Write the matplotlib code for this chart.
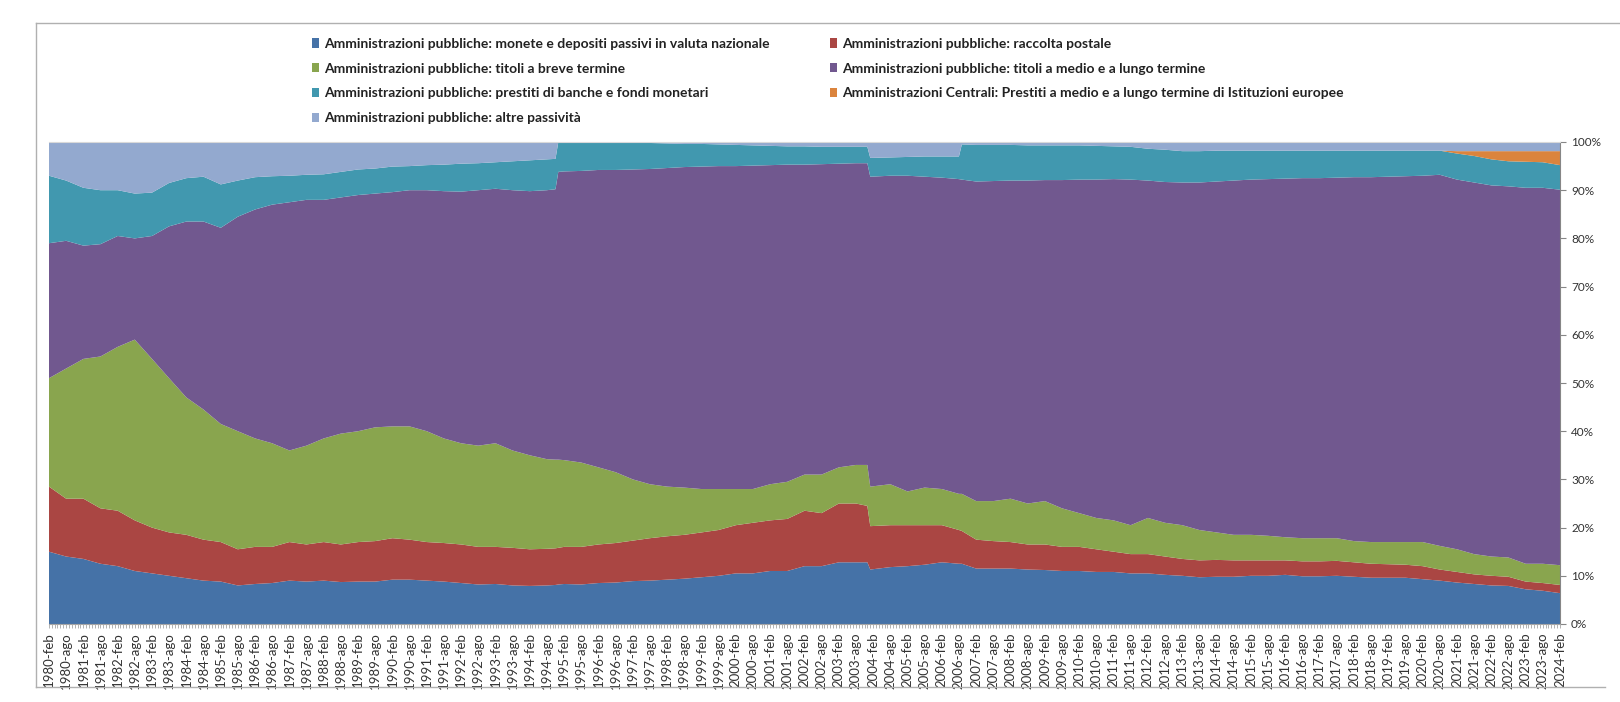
import numpy as np
import pandas as pd
import matplotlib
matplotlib.use('Agg')
import matplotlib.pyplot as plt
import matplotlib.dates as mdates
from matplotlib.patches import Patch
from matplotlib.lines import Line2D
from matplotlib.ticker import FuncFormatter, FixedLocator

plt.rcParams['font.family'] = ['Lato', 'DejaVu Sans']

# === Data (shares in %) ===
dates = [
    '1980-02', '1980-08', '1981-02', '1981-08', '1982-02', '1982-08', '1983-02', '1983-08', '1984-02', '1984-08',
    '1985-02', '1985-08', '1986-02', '1986-08', '1987-02', '1987-08', '1988-02', '1988-08', '1989-02', '1989-08',
    '1990-02', '1990-08', '1991-02', '1991-08', '1992-02', '1992-08', '1993-02', '1993-08', '1994-02', '1994-08',
    '1994-11', '1994-12',
    '1995-02', '1995-08', '1996-02', '1996-08', '1997-02', '1997-08', '1998-02', '1998-08', '1999-02', '1999-08',
    '2000-02', '2000-08', '2001-02', '2001-08', '2002-02', '2002-08', '2003-02', '2003-08',
    '2003-12', '2004-01',
    '2004-08', '2005-02', '2005-08', '2006-02', '2006-08', '2006-09',
    '2007-02', '2007-08', '2008-02', '2008-08', '2009-02', '2009-08', '2010-02', '2010-08', '2011-02', '2011-08',
    '2012-02', '2012-08', '2013-02', '2013-08', '2014-02', '2014-08', '2015-02', '2015-08', '2016-02', '2016-08',
    '2017-02', '2017-08', '2018-02', '2018-08', '2019-02', '2019-08', '2020-02', '2020-08', '2021-02', '2021-08',
    '2022-02', '2022-08', '2023-02', '2023-08',
    '2024-02',
]

monete = [
    15, 14, 13.5, 12.5, 12, 11, 10.5, 10, 9.5, 9, 8.8, 8, 8.3, 8.5, 9, 8.8, 9, 8.7, 8.8, 8.8,
    9.2, 9.2, 9, 8.8, 8.5, 8.2, 8.3, 8, 7.9, 8, 8.1, 8.2,
    8.3, 8.2, 8.5, 8.6, 8.9, 9, 9.2, 9.4, 9.7, 10, 10.5, 10.5, 11, 11, 12, 12, 12.8, 12.8,
    12.8, 11.3,
    11.8, 12, 12.3, 12.8, 12.5, 12.5,
    11.5, 11.5, 11.5, 11.3, 11.2, 11, 11, 10.8, 10.8, 10.5, 10.5, 10.2, 10, 9.7, 9.8, 9.8, 10, 10, 10.2, 9.9,
    9.9, 10, 9.8, 9.6, 9.6, 9.6, 9.3, 9, 8.6, 8.3, 8, 7.9, 7.2, 6.9,
    6.4,
]
raccolta_postale = [
    13.5, 12, 12.5, 11.5, 11.5, 10.5, 9.5, 9, 9, 8.5, 8.2, 7.5, 7.7, 7.5, 8, 7.7, 8, 7.8, 8.2, 8.4,
    8.6, 8.3, 8, 8, 8, 7.8, 7.7, 7.8, 7.6, 7.6, 7.6, 7.6,
    7.7, 7.8, 8, 8.2, 8.4, 8.8, 9, 9.1, 9.3, 9.5, 10, 10.5, 10.5, 10.8, 11.5, 11, 12.2, 12.2,
    11.7, 9,
    8.7, 8.5, 8.2, 7.7, 7, 6.8,
    6, 5.7, 5.5, 5.2, 5.3, 5, 5, 4.7, 4.2, 4, 4, 3.8, 3.5, 3.5, 3.5, 3.4, 3.2, 3.2, 3, 3.1,
    3.1, 3.1, 3, 2.9, 2.8, 2.7, 2.7, 2.3, 2.2, 2, 2, 1.9, 1.6, 1.6,
    1.7,
]
titoli_breve = [
    22.5, 27, 29, 31.5, 34, 37.5, 35, 32, 28.5, 27, 24.5, 24.5, 22.5, 21.5, 19, 20.5, 21.5, 23, 23, 23.6,
    23.2, 23.5, 23, 21.7, 21, 21, 21.5, 20.2, 19.5, 18.6, 18.4, 18.3,
    18, 17.5, 16, 14.7, 12.7, 11.2, 10.3, 9.8, 9, 8.5, 7.5, 7, 7.5, 7.7, 7.5, 8, 7.5, 8,
    8.5, 8.2,
    8.5, 7, 7.8, 7.5, 7.5, 7.7,
    8, 8.3, 9, 8.5, 9, 8, 7, 6.5, 6.5, 6, 7.5, 7, 7, 6.3, 5.7, 5.3, 5.3, 5.1, 4.8, 4.8,
    4.8, 4.7, 4.4, 4.5, 4.6, 4.7, 5, 4.9, 4.7, 4.2, 4, 4, 3.7, 4,
    4.1,
]
titoli_medio_lungo = [
    28, 26.5, 23.5, 23.3, 23, 21, 25.5, 31.5, 36.5, 39, 40.7, 44.5, 47.5, 49.5, 51.5, 51, 49.5, 49, 49, 48.5,
    48.6, 49, 50, 51.3, 52.2, 53, 52.8, 54, 54.8, 55.8, 56.1, 59.7,
    59.9, 60.5, 61.7, 62.7, 64.3, 65.4, 66.1, 66.5, 66.9, 67, 67, 67.1, 66.2, 65.8, 64.3, 64.4, 63, 62.6,
    62.6, 64.3,
    64, 65.5, 64.5, 64.6, 65.3, 65.2,
    66.3, 66.4, 66, 67, 66.6, 68.1, 69.2, 70.2, 70.8, 71.7, 70, 70.7, 71.1, 72.1, 72.8, 73.5, 73.7, 74, 74.4, 74.7,
    74.7, 74.8, 75.5, 75.7, 75.8, 75.9, 76, 77, 76.7, 77.1, 77, 77, 78, 78,
    77.9,
]
prestiti = [
    14, 12.5, 12, 11.2, 9.5, 9.3, 9, 9, 9, 9.3, 9, 7.5, 6.7, 5.9, 5.5, 5.2, 5.3, 5.3, 5.3, 5.2,
    5.3, 5, 5.2, 5.5, 5.8, 5.6, 5.5, 6, 6.4, 6.4, 6.3, 6.2,
    6.1, 6, 5.8, 5.7, 5.5, 5.4, 5.1, 4.8, 4.7, 4.5, 4.4, 4.2, 4, 3.8, 3.8, 3.6, 3.5, 3.4,
    3.4, 3.9,
    3.8, 3.9, 4.2, 4.4, 4.7, 7.3,
    7.6, 7.5, 7.4, 7.3, 7.2, 7.2, 7.1, 7, 6.8, 6.8, 6.6, 6.7, 6.5, 6.5, 6.4, 6.2, 6, 5.9, 5.8, 5.7,
    5.7, 5.6, 5.5, 5.5, 5.4, 5.3, 5.2, 5, 5.4, 5.5, 5.4, 5.2, 5.4, 5.3,
    5.1,
]
istituzioni_europee = [0.0] * 86 + [0.5, 1, 1.7, 2.1, 2.2, 2.3, 2.9]
altre = [
    7, 8, 9.5, 10, 10, 10.7, 10.5, 8.5, 7.5, 7.2, 8.8, 8, 7.3, 7.1, 7, 6.8, 6.7, 6.2, 5.7, 5.5,
    5.1, 5, 4.8, 4.7, 4.5, 4.4, 4.2, 4, 3.8, 3.6, 3.5, 0,
    0, 0, 0, 0.1, 0.2, 0.2, 0.3, 0.4, 0.4, 0.5, 0.6, 0.7, 0.8, 0.9, 0.9, 1, 1, 1,
    1, 3.3,
    3.2, 3.1, 3, 3, 3, 0.5,
    0.6, 0.6, 0.6, 0.7, 0.7, 0.7, 0.7, 0.8, 0.9, 1, 1.4, 1.6, 1.9, 1.9, 1.8, 1.8, 1.8, 1.8, 1.8, 1.8,
    1.8, 1.8, 1.8, 1.8, 1.8, 1.8, 1.8, 1.8, 1.9, 1.9, 1.9, 1.9, 1.9, 1.9,
    1.9,
]

labels = [
    'Amministrazioni pubbliche: monete e depositi passivi in valuta nazionale',
    'Amministrazioni pubbliche: raccolta postale',
    'Amministrazioni pubbliche: titoli a breve termine',
    'Amministrazioni pubbliche: titoli a medio e a lungo termine',
    'Amministrazioni pubbliche: prestiti di banche e fondi monetari',
    'Amministrazioni Centrali: Prestiti a medio e a lungo termine di Istituzioni europee',
    'Amministrazioni pubbliche: altre passività',
]
colors = ['#4572A7', '#AA4643', '#89A54E', '#71588F', '#4198AF', '#DB843D', '#93A9CF']
month_names = {2: 'feb', 8: 'ago'}

# === 100% stacked values ===
x = mdates.date2num(pd.to_datetime(dates, format='%Y-%m'))
data = np.array([monete, raccolta_postale, titoli_breve, titoli_medio_lungo,
                 prestiti, istituzioni_europee, altre], dtype=float)
shares = data / data.sum(axis=0)

W, H = 1620, 702
fig = plt.figure(figsize=(W / 100, H / 100), dpi=100)
ax = fig.add_axes([49 / W, 1 - 624 / H, (1560 - 49) / W, (624 - 142) / H])

ax.stackplot(x, shares, colors=colors, linewidth=0)

ax.set_xlim(x[0], x[-1])
ax.set_ylim(0, 1)

# x axis: ticks every month, labels feb / ago
ax.xaxis.set_major_locator(mdates.MonthLocator(bymonth=[2, 8]))
ax.xaxis.set_minor_locator(mdates.MonthLocator())
ax.xaxis.set_major_formatter(FuncFormatter(
    lambda v, p: f"{mdates.num2date(v).year}-{month_names.get(mdates.num2date(v).month, '')}"))
ax.tick_params(axis='x', which='both', length=3, color='#A6A6A6', width=0.6)
ax.tick_params(axis='x', which='major', labelsize=9.5, labelrotation=90, pad=3, labelcolor='#333333')

# y axis on the right with percentages
ax.yaxis.tick_right()
ax.yaxis.set_major_locator(FixedLocator(np.arange(0, 1.01, 0.1)))
ax.yaxis.set_major_formatter(FuncFormatter(lambda v, p: f"{v * 100:.0f}%"))
ax.tick_params(axis='y', length=4, color='#868686', width=0.8, labelsize=8.5, pad=4, labelcolor='#333333')

ax.spines['left'].set_visible(False)
ax.spines['top'].set_color('#D9D9D9')
ax.spines['right'].set_color('#868686')
ax.spines['bottom'].set_color('#A6A6A6')

# Legend: two columns, filled row by row like the original
order_col1 = [0, 2, 4, 6]
order_col2 = [1, 3, 5]
for order, x0 in [(order_col1, 309), (order_col2, 827)]:
    handles = [Patch(facecolor=colors[i], edgecolor='none') for i in order]
    leg = fig.legend(handles, [labels[i] for i in order], loc='upper left',
                     bbox_to_anchor=(x0 / W, 1 - 35 / H), frameon=False,
                     fontsize=10, handlelength=0.55, handleheight=0.65, handletextpad=0.35,
                     labelspacing=0.92, borderpad=0.2, borderaxespad=0)
    for t in leg.get_texts():
        t.set_fontweight('bold')
        t.set_color('#222222')

# Outer chart frame
frame_kw = dict(color='#B0B0B0', linewidth=1.0, transform=fig.transFigure)
fig.add_artist(Line2D([36 / W, 36 / W], [1 - 687 / H, 1 - 23 / H], **frame_kw))
fig.add_artist(Line2D([36 / W, 1.0], [1 - 23 / H, 1 - 23 / H], **frame_kw))
fig.add_artist(Line2D([36 / W, 1605 / W], [1 - 687 / H, 1 - 687 / H], **frame_kw))

fig.savefig('out.png', dpi=100, facecolor='white')
